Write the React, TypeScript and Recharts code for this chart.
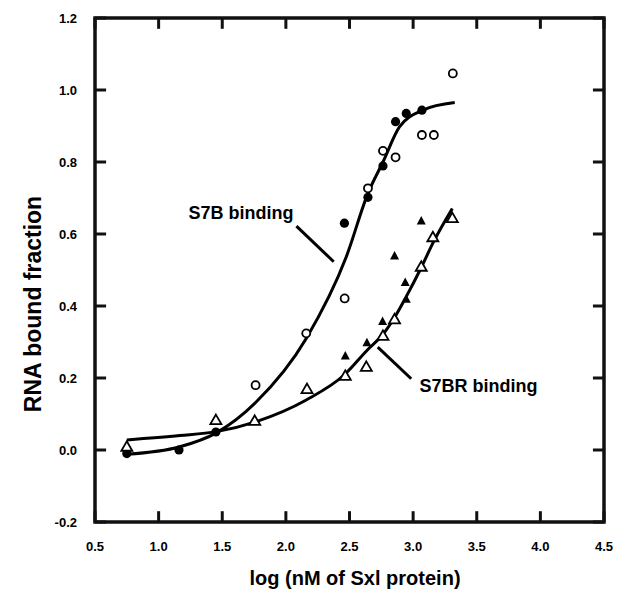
import React from 'react';
import {
  ComposedChart,
  Line,
  Scatter,
  XAxis,
  YAxis,
  ReferenceLine,
  ReferenceDot,
  ReferenceArea,
  Label,
} from 'recharts';

// axis ticks
const X_TICKS = [0.5, 1.0, 1.5, 2.0, 2.5, 3.0, 3.5, 4.0, 4.5];
const Y_TICKS = [-0.2, 0, 0.2, 0.4, 0.6, 0.8, 1.0, 1.2];

// S7B measurements (filled and open circles)
const s7bFilled = [
  { x: 0.75, y: -0.01 },
  { x: 1.16, y: 0.0 },
  { x: 1.45, y: 0.05 },
  { x: 2.46, y: 0.63 },
  { x: 2.645, y: 0.702 },
  { x: 2.763, y: 0.789 },
  { x: 2.862, y: 0.912 },
  { x: 2.946, y: 0.935 },
  { x: 3.069, y: 0.944 },
];
const s7bOpen = [
  { x: 1.762, y: 0.18 },
  { x: 2.16, y: 0.324 },
  { x: 2.462, y: 0.421 },
  { x: 2.645, y: 0.727 },
  { x: 2.763, y: 0.831 },
  { x: 2.862, y: 0.813 },
  { x: 3.069, y: 0.875 },
  { x: 3.163, y: 0.875 },
  { x: 3.312, y: 1.046 },
];

// S7BR measurements (filled and open triangles)
const s7brFilled = [
  { x: 2.467, y: 0.261 },
  { x: 2.637, y: 0.298 },
  { x: 2.76, y: 0.357 },
  { x: 2.854, y: 0.539 },
  { x: 2.938, y: 0.465 },
  { x: 2.946, y: 0.419 },
  { x: 3.064, y: 0.636 },
];
const s7brOpen = [
  { x: 0.75, y: 0.009 },
  { x: 1.45, y: 0.083 },
  { x: 1.755, y: 0.081 },
  { x: 2.166, y: 0.169 },
  { x: 2.467, y: 0.206 },
  { x: 2.632, y: 0.231 },
  { x: 2.763, y: 0.317 },
  { x: 2.854, y: 0.363 },
  { x: 3.064, y: 0.509 },
  { x: 3.155, y: 0.591 },
  { x: 3.308, y: 0.644 },
];

// fitted curves
const s7bFit = [
  { x: 0.75, y: -0.012 },
  { x: 1.167, y: 0.009 },
  { x: 1.45, y: 0.047 },
  { x: 1.768, y: 0.134 },
  { x: 2.16, y: 0.31 },
  { x: 2.475, y: 0.537 },
  { x: 2.645, y: 0.713 },
  { x: 2.763, y: 0.8 },
  { x: 2.894, y: 0.898 },
  { x: 3.077, y: 0.944 },
  { x: 3.327, y: 0.965 },
];
const s7brFit = [
  { x: 0.75, y: 0.028 },
  { x: 1.167, y: 0.04 },
  { x: 1.454, y: 0.051 },
  { x: 1.768, y: 0.079 },
  { x: 2.16, y: 0.139 },
  { x: 2.46, y: 0.209 },
  { x: 2.646, y: 0.28 },
  { x: 2.76, y: 0.32 },
  { x: 2.854, y: 0.368 },
  { x: 2.946, y: 0.426 },
  { x: 3.064, y: 0.507 },
  { x: 3.16, y: 0.578 },
  { x: 3.308, y: 0.671 },
];

const FONT = '"Liberation Sans", Arial, Helvetica, sans-serif';
const INK = '#111111';
// inner tick length in data units (about 11px each way)
const V_TICK = 0.03;
const H_TICK = 0.087;
const X_MIN = 0.5;
const X_MAX = 4.5;
const Y_MIN = -0.2;
const Y_MAX = 1.2;

const BottomTick = (p: any) => (
  <text x={p.x} y={p.y} textAnchor="middle" dominantBaseline="central" fontSize={13} fontWeight={700} fontFamily={FONT} fill="#000">
    {Number(p.payload.value).toFixed(1)}
  </text>
);
const LeftTick = (p: any) => (
  <text x={p.x} y={p.y} textAnchor="end" dominantBaseline="central" fontSize={13} fontWeight={700} fontFamily={FONT} fill="#000">
    {Number(p.payload.value).toFixed(1)}
  </text>
);

const OpenCircle = (p: any) => (
  <circle cx={p.cx} cy={p.cy} r={4} fill="#fff" stroke="#000" strokeWidth={1.8} />
);
const FilledCircle = (p: any) => <circle cx={p.cx} cy={p.cy} r={4.6} fill="#000" />;
const OpenTriangle = (p: any) => (
  <path
    d={`M${p.cx},${p.cy - 5.5} L${p.cx + 5.5},${p.cy + 4} L${p.cx - 5.5},${p.cy + 4} Z`}
    fill="#fff"
    stroke="#000"
    strokeWidth={1.8}
  />
);
const FilledTriangle = (p: any) => (
  <path
    d={`M${p.cx},${p.cy - 5} L${p.cx + 4.5},${p.cy + 3.5} L${p.cx - 4.5},${p.cy + 3.5} Z`}
    fill="#000"
  />
);

const annotationLabel = (value: string) => ({
  value,
  position: 'center' as const,
  fill: '#000',
  fontSize: 18,
  fontWeight: 700,
  fontFamily: FONT,
});

const App = () => {
  return (
    <div style={{ position: 'absolute', left: 0, top: 0, width: 627, height: 589, background: '#fff' }}>
      <ComposedChart width={627} height={589} margin={{ top: 18, right: 23, bottom: 0, left: 35 }}>
        <XAxis
          dataKey="x"
          type="number"
          domain={[X_MIN, X_MAX]}
          ticks={X_TICKS}
          interval={0}
          height={67}
          axisLine={false}
          tickLine={false}
          tickSize={0}
          tickMargin={24}
          tick={BottomTick}
        >
          <Label
            content={() => (
              <text x={355} y={578} textAnchor="middle" dominantBaseline="central" fontSize={20} fontWeight={700} fontFamily={FONT} fill="#000">
                log (nM of Sxl protein)
              </text>
            )}
          />
        </XAxis>
        <YAxis
          type="number"
          domain={[Y_MIN, Y_MAX]}
          ticks={Y_TICKS}
          interval={0}
          width={60}
          axisLine={false}
          tickLine={false}
          tickSize={0}
          tickMargin={18}
          tick={LeftTick}
        >
          <Label
            content={() => (
              <text
                x={33}
                y={304}
                transform="rotate(-90, 33, 304)"
                textAnchor="middle"
                dominantBaseline="central"
                fontSize={23}
                fontWeight={700}
                fontFamily={FONT}
                fill="#000"
              >
                RNA bound fraction
              </text>
            )}
          />
        </YAxis>

        {/* box frame with inward ticks on all four sides */}
        <ReferenceArea x1={X_MIN} x2={X_MAX} y1={Y_MIN} y2={Y_MAX} fill="none" stroke={INK} strokeWidth={3.5} ifOverflow="visible" />
        {X_TICKS.map((t) => (
          <ReferenceLine key={`bx${t}`} segment={[{ x: t, y: Y_MIN }, { x: t, y: Y_MIN + V_TICK }]} stroke={INK} strokeWidth={3} ifOverflow="visible" />
        ))}
        {X_TICKS.map((t) => (
          <ReferenceLine key={`tx${t}`} segment={[{ x: t, y: Y_MAX }, { x: t, y: Y_MAX - V_TICK }]} stroke={INK} strokeWidth={3} ifOverflow="visible" />
        ))}
        {Y_TICKS.map((t) => (
          <ReferenceLine key={`ly${t}`} segment={[{ x: X_MIN, y: t }, { x: X_MIN + H_TICK, y: t }]} stroke={INK} strokeWidth={3} ifOverflow="visible" />
        ))}
        {Y_TICKS.map((t) => (
          <ReferenceLine key={`ry${t}`} segment={[{ x: X_MAX, y: t }, { x: X_MAX - H_TICK, y: t }]} stroke={INK} strokeWidth={3} ifOverflow="visible" />
        ))}

        <Line data={s7bFit} dataKey="y" type="monotone" stroke="#000" strokeWidth={3} dot={false} isAnimationActive={false} />
        <Line data={s7brFit} dataKey="y" type="monotone" stroke="#000" strokeWidth={3} dot={false} isAnimationActive={false} />

        <ReferenceLine segment={[{ x: 2.083, y: 0.622 }, { x: 2.376, y: 0.523 }]} stroke="#000" strokeWidth={3} />
        <ReferenceLine segment={[{ x: 2.722, y: 0.286 }, { x: 2.985, y: 0.198 }]} stroke="#000" strokeWidth={3} />
        <ReferenceDot x={1.647} y={0.659} r={1} fill="none" stroke="none" label={annotationLabel('S7B binding')} />
        <ReferenceDot x={3.513} y={0.179} r={1} fill="none" stroke="none" label={annotationLabel('S7BR binding')} />

        <Scatter data={s7bOpen} dataKey="y" shape={OpenCircle} isAnimationActive={false} />
        <Scatter data={s7bFilled} dataKey="y" shape={FilledCircle} isAnimationActive={false} />
        <Scatter data={s7brOpen} dataKey="y" shape={OpenTriangle} isAnimationActive={false} />
        <Scatter data={s7brFilled} dataKey="y" shape={FilledTriangle} isAnimationActive={false} />
      </ComposedChart>
    </div>
  );
};

export default App;
